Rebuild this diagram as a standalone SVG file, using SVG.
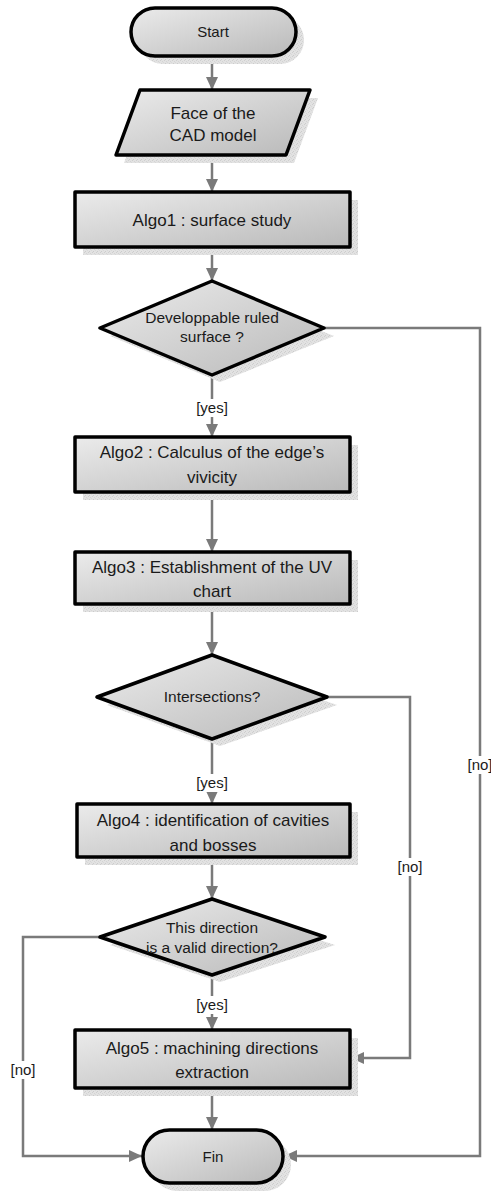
<svg xmlns="http://www.w3.org/2000/svg" width="491" height="1191" viewBox="0 0 491 1191">
  <defs>
    <linearGradient id="fillGrad" x1="0" y1="0" x2="1" y2="1">
      <stop offset="0" stop-color="#ebebeb"/>
      <stop offset="1" stop-color="#b9b9b9"/>
    </linearGradient>
    <pattern id="shadowTex" width="4" height="4" patternUnits="userSpaceOnUse">
      <rect width="4" height="4" fill="#e2e2e2"/>
      <rect x="0" y="0" width="1" height="1" fill="#cfcfcf"/>
      <rect x="2" y="1" width="1" height="1" fill="#d4d4d4"/>
      <rect x="1" y="3" width="1" height="1" fill="#cccccc"/>
      <rect x="3" y="2" width="1" height="1" fill="#d8d8d8"/>
    </pattern>
    <marker id="arrow" viewBox="0 0 13 12" refX="13" refY="6" markerWidth="13" markerHeight="12" markerUnits="userSpaceOnUse" orient="auto">
      <path d="M0,0 L13,6 L0,12 Z" fill="#7a7a7a"/>
    </marker>
    <style>
      .shape { fill: url(#fillGrad); stroke: #000; stroke-width: 3.5; stroke-linejoin: round; }
      .shadow { fill: url(#shadowTex); stroke: none; }
      .txt { font-family: "Liberation Sans", Arial, sans-serif; font-size: 15px; fill: #1a1a1a; text-anchor: middle; }
      .big { font-size: 17px; }
      .dia { font-size: 15.5px; }
      .conn { fill: none; stroke: #7a7a7a; stroke-width: 2.5; }
      .lblbg { fill: #ffffff; }
    </style>
  </defs>
  <rect width="491" height="1191" fill="#ffffff"/>

  <!-- connectors -->
  <g id="connectors">
    <path class="conn" d="M212,56 V90" marker-end="url(#arrow)"/>
    <path class="conn" d="M212,155 V192" marker-end="url(#arrow)"/>
    <path class="conn" d="M212,247 V281" marker-end="url(#arrow)"/>
    <path class="conn" d="M212,375 V437" marker-end="url(#arrow)"/>
    <path class="conn" d="M212,492 V552" marker-end="url(#arrow)"/>
    <path class="conn" d="M212,604 V655" marker-end="url(#arrow)"/>
    <path class="conn" d="M212,739 V804" marker-end="url(#arrow)"/>
    <path class="conn" d="M212,857 V899" marker-end="url(#arrow)"/>
    <path class="conn" d="M212,975 V1030" marker-end="url(#arrow)"/>
    <path class="conn" d="M212,1088 V1130" marker-end="url(#arrow)"/>
    <path class="conn" d="M324,328 H480 V1156 H284" marker-end="url(#arrow)"/>
    <path class="conn" d="M327,697 H410 V1058 H351" marker-end="url(#arrow)"/>
    <path class="conn" d="M100,937 H23 V1156 H142" marker-end="url(#arrow)"/>
    <!-- branch labels -->
    <rect class="lblbg" x="195" y="399" width="34" height="18"/>
    <text class="txt" x="212" y="413">[yes]</text>
    <rect class="lblbg" x="195" y="774" width="34" height="18"/>
    <text class="txt" x="212" y="788">[yes]</text>
    <rect class="lblbg" x="195" y="996" width="34" height="18"/>
    <text class="txt" x="212" y="1010">[yes]</text>
    <rect class="lblbg" x="466" y="756" width="28" height="18"/>
    <text class="txt" x="480" y="770">[no]</text>
    <rect class="lblbg" x="396" y="858" width="28" height="18"/>
    <text class="txt" x="410" y="872">[no]</text>
    <rect class="lblbg" x="9" y="1061" width="28" height="18"/>
    <text class="txt" x="23" y="1075">[no]</text>
  </g>

  <g id="start">
    <rect class="shadow" x="139" y="16" width="165" height="48" rx="24"/>
    <rect class="shape" x="131" y="8" width="165" height="48" rx="24"/>
    <text class="txt" x="213" y="37">Start</text>
  </g>

  <g id="face">
    <polygon class="shadow" points="148,98 318,98 294,163 124,163"/>
    <polygon class="shape" points="140,90 310,90 286,155 116,155"/>
    <text class="txt big" x="213" y="119">Face of the</text>
    <text class="txt big" x="213" y="141">CAD model</text>
  </g>

  <g id="algo1">
    <rect class="shadow" x="83" y="200" width="275" height="55"/>
    <rect class="shape" x="75" y="192" width="275" height="55"/>
    <text class="txt big" x="212" y="226">Algo1 : surface study</text>
  </g>

  <g id="decision1">
    <polygon class="shadow" points="220,291 334,336 220,382 110,336"/>
    <polygon class="shape" points="212,281 324,328 212,375 100,328"/>
    <text class="txt dia" x="212" y="323">Developpable ruled</text>
    <text class="txt dia" x="212" y="342">surface ?</text>
  </g>

  <g id="algo2">
    <rect class="shadow" x="83" y="445" width="275" height="55"/>
    <rect class="shape" x="75" y="437" width="275" height="55"/>
    <text class="txt big" x="212" y="458">Algo2 : Calculus of the edge’s</text>
    <text class="txt big" x="212" y="483">vivicity</text>
  </g>

  <g id="algo3">
    <rect class="shadow" x="83" y="560" width="275" height="52"/>
    <rect class="shape" x="75" y="552" width="275" height="52"/>
    <text class="txt big" x="212" y="573">Algo3 : Establishment of the UV</text>
    <text class="txt big" x="212" y="597">chart</text>
  </g>

  <g id="decision2">
    <polygon class="shadow" points="220,665 337,705 220,746 107,705"/>
    <polygon class="shape" points="212,655 327,697 212,739 97,697"/>
    <text class="txt dia" x="212" y="702">Intersections?</text>
  </g>

  <g id="algo4">
    <rect class="shadow" x="85" y="812" width="273" height="53"/>
    <rect class="shape" x="77" y="804" width="273" height="53"/>
    <text class="txt big" x="213" y="826">Algo4 : identification of cavities</text>
    <text class="txt big" x="213" y="851">and bosses</text>
  </g>

  <g id="decision3">
    <polygon class="shadow" points="220,908 335,945 220,982 110,945"/>
    <polygon class="shape" points="212,899 325,937 212,975 100,937"/>
    <text class="txt dia" x="212" y="933">This direction</text>
    <text class="txt dia" x="212" y="953">is a valid direction?</text>
  </g>

  <g id="algo5">
    <rect class="shadow" x="83" y="1038" width="275" height="58"/>
    <rect class="shape" x="75" y="1030" width="275" height="58"/>
    <text class="txt big" x="212" y="1054">Algo5 : machining directions</text>
    <text class="txt big" x="212" y="1078">extraction</text>
  </g>

  <g id="fin">
    <rect class="shadow" x="151" y="1138" width="140" height="53" rx="26.5"/>
    <rect class="shape" x="143" y="1130" width="140" height="53" rx="26.5"/>
    <text class="txt" x="213" y="1162">Fin</text>
  </g>
</svg>
